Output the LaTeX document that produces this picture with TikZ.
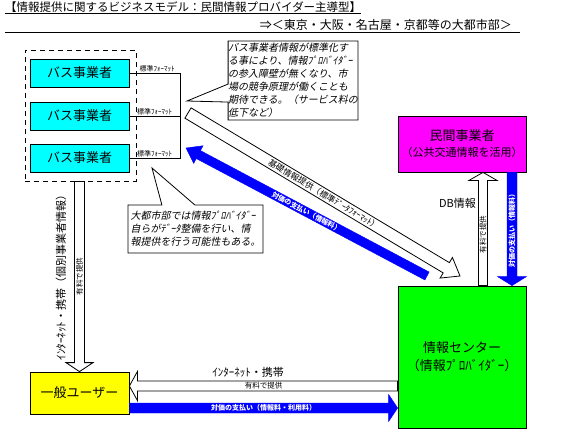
\documentclass[tikz,border=0pt]{standalone}
\usepackage{fontspec}
\setmainfont{Noto Sans CJK JP}
\newfontfamily\slantjp[FakeSlant=0.2]{Noto Sans CJK JP}
\usetikzlibrary{calc, shapes.callouts}
\definecolor{buscol}{RGB}{0,255,255}
\definecolor{bizcol}{RGB}{255,0,255}
\definecolor{centercol}{RGB}{0,255,0}
\definecolor{usercol}{RGB}{255,255,0}
\definecolor{paycol}{RGB}{0,0,255}

% block arrow from #2 to #3: half shaft #4, half head #5, head length #6
\newcommand\blockarrow[6][]{%
  \path[#1] let \p1=(#2), \p2=(#3),
    \n1={atan2(\y2-\y1,\x2-\x1)}, \n2={veclen(\x2-\x1,\y2-\y1)-#6} in
    ($(\p1)+(\n1+90:#4)$) -- ($(\p1)+(\n1:\n2)+(\n1+90:#4)$)
    -- ($(\p1)+(\n1:\n2)+(\n1+90:#5)$) -- (\p2)
    -- ($(\p1)+(\n1:\n2)+(\n1-90:#5)$) -- ($(\p1)+(\n1:\n2)+(\n1-90:#4)$)
    -- ($(\p1)+(\n1-90:#4)$) -- cycle;}

\begin{document}
\begin{tikzpicture}[x=1pt, y=1pt,
  every node/.style={inner sep=0pt},
  box/.style={draw, line width=0.8pt, align=center},
  bus/.style={box, fill=buscol, minimum width=99pt, minimum height=28pt,
              font=\fontsize{13}{15}\selectfont},
  grp/.style={draw, line width=0.8pt, dash pattern=on 5pt off 4pt,
              minimum width=111pt, minimum height=131pt},
  note/.style={rectangle callout, draw, line width=0.8pt, fill=white, align=left,
               font=\slantjp\fontsize{10}{13}\selectfont},
  hollow/.style={draw, line width=0.8pt, fill=white},
  paid/.style={draw=paycol, fill=paycol},
  fmt/.style={above=1pt, font=\fontsize{7}{8}\selectfont},
  tag/.style={font=\fontsize{7.5}{8}\selectfont},
  paytag/.style={text=white, font=\bfseries\fontsize{7}{8}\selectfont},
  lbl/.style={font=\fontsize{11}{13}\selectfont},
]
\useasboundingbox (0,0) rectangle (572,-431);
% heading
\node[anchor=base west, font=\fontsize{11.5}{13}\selectfont] (title) at (5,-11)
  {【情報提供に関するビジネスモデル：民間情報プロバイダー主導型】};
\node[anchor=base east, font=\fontsize{12}{14}\selectfont] (area) at (512,-29)
  {⇒＜東京・大阪・名古屋・京都等の大都市部＞};
\draw ([yshift=-2pt]title.base west) -- ([yshift=-2pt]title.base east);
\draw ([yshift=-3pt]title.west |- area.base) -- ([xshift=8pt,yshift=-3pt]area.base east);
% bus operators
\node[grp] (group) at (80.5,-115.5) {};
\node[bus] (bus1) at (79.5,-73) {バス事業者};
\node[bus] (bus2) at (79.5,-116) {バス事業者};
\node[bus] (bus3) at (79.5,-158) {バス事業者};
\coordinate (jtop) at (180,-73);
\coordinate (jbot) at (180,-158);
\draw[line width=0.8pt] (bus1.east) -- node[fmt, pos=0.55] {標準ﾌｫｰﾏｯﾄ} (jtop) -- (jbot)
  -- node[fmt] {標準ﾌｫｰﾏｯﾄ} (bus3.east);
\draw[line width=0.8pt] (bus2.east) -- node[fmt] {標準ﾌｫｰﾏｯﾄ} (bus2.east -| jtop);
% other parties
\node[box, fill=bizcol, minimum width=128pt, minimum height=56pt,
      font=\fontsize{13}{15}\selectfont] (biz) at (462,-144)
  {民間事業者\\[1pt]{\fontsize{11}{13}\selectfont （公共交通情報を活用）}};
\node[box, fill=centercol, minimum width=128pt, minimum height=142pt,
      font=\fontsize{13}{18}\selectfont] (center) at (462,-357)
  {情報センター\\（情報ﾌﾟﾛﾊﾞｲﾀﾞｰ）};
\node[box, fill=usercol, minimum width=99pt, minimum height=42pt,
      font=\fontsize{13}{15}\selectfont] (user) at (79.5,-393) {一般ユーザー};
% data and payment flows
\coordinate (gfoot) at (user.north |- group.south);
\blockarrow[hollow]{gfoot}{user.north}{5}{13.5}{9}
\path (gfoot) -- node[tag, rotate=90] {有料で提供} (user.north);
\node[lbl, rotate=90] (netv) at (61,-275) {ｲﾝﾀｰﾈｯﾄ・携帯（個別事業者情報）};

\coordinate (dbfoot) at ($(center.north)+(21,0)$);
\blockarrow[hollow]{dbfoot}{dbfoot |- biz.south}{4.5}{14}{8}
\path (dbfoot) -- node[tag, rotate=90, pos=0.45] {有料で提供} (dbfoot |- biz.south);
\node[lbl, anchor=east] (db) at (476,-203) {DB情報};

\coordinate (paytop) at ($(biz.south)+(50,0)$);
\blockarrow[paid]{paytop}{paytop |- center.north}{5}{14.5}{9}
\path (paytop) -- node[paytag, rotate=90] {対価の支払い（情報料）} (paytop |- center.north);

\coordinate (netfoot) at ($(center.west)+(0,-29)$);
\blockarrow[hollow]{netfoot}{netfoot -| user.east}{5}{14.5}{8}
\path (netfoot) -- node[tag] {有料で提供} (netfoot -| user.east);
\node[lbl] (net) at (248,-372) {ｲﾝﾀｰﾈｯﾄ・携帯};

\coordinate (payfoot) at ($(user.east)+(0,-15)$);
\blockarrow[paid]{payfoot}{payfoot -| center.west}{5}{13.5}{9}
\path (payfoot) -- node[paytag] {対価の支払い（情報料・利用料）} (payfoot -| center.west);

\coordinate (stdfoot) at (188,-113);
\coordinate (stdtip) at (460,-276);
\blockarrow[hollow]{stdfoot}{stdtip}{6}{12}{16}
\path (stdfoot) -- node[tag, sloped, font=\fontsize{8.5}{9}\selectfont] {基礎情報提供（標準ﾃﾞｰﾀﾌｫｰﾏｯﾄ）} (stdtip);

\coordinate (feefoot) at (427,-276);
\coordinate (feetip) at (186,-148);
\blockarrow[paid]{feefoot}{feetip}{4.5}{10}{14}
\path (feefoot) -- node[paytag, sloped] {対価の支払い（情報料）} (feetip);
% remarks
\coordinate (merittip) at (187,-101);
\node[note, minimum width=128pt, minimum height=79pt,
      callout absolute pointer={(merittip)}, callout pointer width=18pt] (merit) at (293,-80.5)
  {バス事業者情報が標準化す\\る事により、情報ﾌﾟﾛﾊﾞｲﾀﾞｰ\\の参入障壁が無くなり、市\\場の競争原理が働くことも\\期待できる。（サービス料の\\低下など）};
\coordinate (citytip) at (152,-168);
\node[note, minimum width=135pt, minimum height=48pt,
      callout absolute pointer={(citytip)}, callout pointer width=33pt] (city) at (195.5,-229)
  {大都市部では情報ﾌﾟﾛﾊﾞｲﾀﾞｰ\\自らがﾃﾞｰﾀ整備を行い、情\\報提供を行う可能性もある。};
\end{tikzpicture}
\end{document}
